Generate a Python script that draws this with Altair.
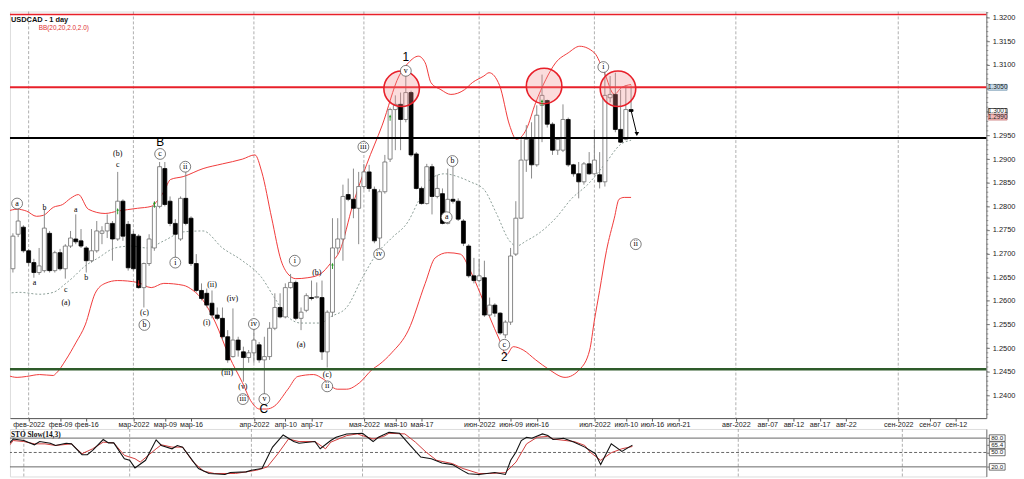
import altair as alt
import pandas as pd

symbol_title = "USDCAD - 1 day"
bb_title = "BB(20,20,2.0,2.0)"
sto_title = "STO Slow(14,3)"

first_day = "2022-01-26"
last_day = "2022-07-12"

opens = [1.2622,1.2668,1.2741,1.2756,1.2706,1.2681,1.2660,1.2664,1.2743,1.2664,
         1.2702,1.2668,1.2716,1.2731,1.2727,1.2712,1.2685,1.2706,1.2743,1.2748,
         1.2764,1.2731,1.2811,1.2762,1.2741,1.2737,1.2628,1.2679,1.2712,1.2800,
         1.2880,1.2811,1.2764,1.2731,1.2817,1.2775,1.2679,1.2622,1.2616,1.2595,
         1.2570,1.2563,1.2524,1.2482,1.2517,1.2492,1.2480,1.2490,1.2507,1.2475,
         1.2482,1.2542,1.2586,1.2566,1.2628,1.2639,1.2563,1.2580,1.2607,1.2607,
         1.2607,1.2492,1.2576,1.2712,1.2731,1.2825,1.2815,1.2796,1.2842,1.2873,
         1.2836,1.2733,1.2831,1.2900,1.3005,1.3016,1.2984,1.3041,1.2911,1.2838,
         1.2806,1.2884,1.2821,1.2827,1.2764,1.2815,1.2811,1.2769,1.2716,1.2653,
         1.2643,1.2649,1.2570,1.2591,1.2574,1.2528,1.2555,1.2699,1.2775,1.2898,
         1.2942,1.2888,1.3014,1.3024,1.2974,1.2919,1.2919,1.2984,1.2888,1.2869,
         1.2852,1.2890,1.2869,1.2867,1.2852,1.3030,1.3037,1.2963,1.2942,1.3005]
highs = [1.2706,1.2743,1.2796,1.2760,1.2710,1.2689,1.2712,1.2794,1.2748,1.2706,
         1.2710,1.2720,1.2748,1.2783,1.2752,1.2716,1.2752,1.2769,1.2758,1.2783,
         1.2769,1.2873,1.2815,1.2769,1.2748,1.2741,1.2681,1.2741,1.2811,1.2894,
         1.2894,1.2821,1.2773,1.2821,1.2888,1.2779,1.2699,1.2637,1.2626,1.2622,
         1.2586,1.2586,1.2538,1.2584,1.2524,1.2503,1.2496,1.2559,1.2513,1.2524,
         1.2555,1.2616,1.2616,1.2637,1.2657,1.2643,1.2586,1.2616,1.2643,1.2639,
         1.2643,1.2580,1.2775,1.2775,1.2846,1.2859,1.2880,1.2873,1.2890,1.2888,
         1.2842,1.2836,1.2909,1.3009,1.3035,1.3041,1.3089,1.3045,1.2915,1.2842,
         1.2890,1.2890,1.2867,1.2838,1.2880,1.2884,1.2817,1.2773,1.2720,1.2691,
         1.2689,1.2685,1.2607,1.2595,1.2576,1.2559,1.2712,1.2811,1.2942,1.2972,
         1.2978,1.3014,1.3079,1.3026,1.2978,1.2947,1.3016,1.2988,1.2890,1.2894,
         1.2894,1.2915,1.2963,1.2915,1.3097,1.3076,1.3083,1.3047,1.3056,1.3056]
lows = [1.2559,1.2660,1.2735,1.2702,1.2674,1.2649,1.2655,1.2660,1.2660,1.2660,
        1.2664,1.2647,1.2712,1.2720,1.2712,1.2660,1.2681,1.2702,1.2720,1.2733,
        1.2685,1.2727,1.2727,1.2664,1.2664,1.2626,1.2586,1.2674,1.2706,1.2796,
        1.2800,1.2758,1.2691,1.2727,1.2760,1.2674,1.2618,1.2601,1.2586,1.2563,
        1.2559,1.2517,1.2469,1.2480,1.2482,1.2429,1.2469,1.2469,1.2469,1.2387,
        1.2475,1.2538,1.2563,1.2563,1.2626,1.2559,1.2538,1.2576,1.2601,1.2605,
        1.2475,1.2459,1.2566,1.2699,1.2685,1.2811,1.2775,1.2720,1.2836,1.2831,
        1.2722,1.2712,1.2827,1.2894,1.2919,1.2919,1.2978,1.2905,1.2836,1.2804,
        1.2804,1.2783,1.2817,1.2762,1.2762,1.2806,1.2769,1.2716,1.2649,1.2637,
        1.2639,1.2566,1.2566,1.2566,1.2528,1.2521,1.2549,1.2695,1.2773,1.2873,
        1.2859,1.2884,1.2936,1.2967,1.2909,1.2909,1.2915,1.2884,1.2863,1.2817,
        1.2846,1.2867,1.2867,1.2838,1.2842,1.3020,1.2957,1.2934,1.2940,1.2999]
closes = [1.2668,1.2737,1.2769,1.2706,1.2681,1.2660,1.2674,1.2754,1.2664,1.2702,
          1.2668,1.2716,1.2733,1.2725,1.2716,1.2685,1.2706,1.2748,1.2748,1.2764,
          1.2731,1.2811,1.2737,1.2670,1.2668,1.2628,1.2679,1.2731,1.2800,1.2884,
          1.2804,1.2764,1.2741,1.2817,1.2764,1.2679,1.2622,1.2605,1.2591,1.2570,
          1.2563,1.2524,1.2475,1.2517,1.2496,1.2480,1.2490,1.2517,1.2475,1.2482,
          1.2542,1.2586,1.2566,1.2628,1.2639,1.2563,1.2576,1.2611,1.2605,1.2609,
          1.2492,1.2576,1.2712,1.2731,1.2821,1.2815,1.2796,1.2842,1.2873,1.2838,
          1.2727,1.2831,1.2894,1.3005,1.3016,1.2984,1.3041,1.2909,1.2838,1.2806,
          1.2884,1.2821,1.2838,1.2764,1.2815,1.2811,1.2773,1.2722,1.2653,1.2643,
          1.2653,1.2570,1.2591,1.2574,1.2532,1.2555,1.2695,1.2775,1.2898,1.2942,
          1.2888,1.2993,1.3035,1.2974,1.2919,1.2942,1.2984,1.2888,1.2869,1.2852,
          1.2890,1.2869,1.2898,1.2852,1.3035,1.3037,1.2963,1.2936,1.3005,1.3001]

# Bollinger bands (slot, price)
upper_slots = [0,1.8,3.6,5.5,6.8,8.7,10.5,12.0,13.5,15.4,18.6,21.0,24.8,27.4,28.5,29.8,31.1,33.5,37.3,41.0,
               44.8,47.2,48.5,50.4,52.2,53.5,55.0,57.3,59.7,61.6,63.4,65.9,68.5,71.5,74.7,76.5,78.4,79.7,80.8,82.7,
               84.6,87.2,88.7,90.9,91.9,93.9,95.8,97.1,99.0,100.8,102.7,104.6,107.0,109.2,112.0,113.9,115.8,117.1,119.0]
upper_vals = [1.2790,1.2794,1.2790,1.2779,1.2781,1.2798,1.2804,1.2817,1.2825,1.2794,1.2785,1.2790,1.2796,1.2800,1.2811,1.2831,1.2857,1.2863,1.2880,1.2890,
              1.2900,1.2909,1.2873,1.2775,1.2685,1.2657,1.2647,1.2649,1.2657,1.2679,1.2706,1.2804,1.2888,1.2972,1.3076,1.3104,1.3118,1.3104,1.3062,1.3047,
              1.3037,1.3047,1.3062,1.3076,1.3083,1.3056,1.2972,1.2942,1.2963,1.3020,1.3068,1.3104,1.3125,1.3139,1.3125,1.3083,1.3037,1.3051,1.3058]
mid_slots = [0,2.3,6.1,8.7,11.1,12.4,14.8,17.3,20.5,23.6,26.6,29.8,33.5,37.3,41.0,44.8,48.5,50.9,53.5,56.0,
             59.7,61.6,64.7,67.7,70.4,73.3,76.5,78.4,80.8,83.4,85.9,88.3,90.9,93.3,95.8,97.1,99.0,101.4,104.6,107.7,
             110.7,113.9,117.1,119.0]
mid_vals = [1.2616,1.2618,1.2614,1.2618,1.2637,1.2649,1.2674,1.2691,1.2712,1.2716,1.2712,1.2727,1.2746,1.2748,1.2712,1.2685,1.2649,1.2607,1.2566,1.2553,
            1.2553,1.2566,1.2586,1.2649,1.2699,1.2733,1.2769,1.2811,1.2859,1.2869,1.2863,1.2852,1.2836,1.2785,1.2727,1.2716,1.2727,1.2743,1.2775,1.2817,
            1.2846,1.2888,1.2932,1.2940]
lower_slots = [0,1.8,3.6,6.1,8.7,9.2,11.1,13.0,14.8,16.7,18.6,21.0,24.8,27.4,29.8,33.5,35.4,37.3,39.7,42.3,
               44.8,46.6,48.1,49.4,50.9,53.5,55.4,58.4,60.3,62.9,64.7,67.2,69.6,70.9,73.3,76.5,79.7,81.6,84.0,86.4,
               88.3,90.2,92.0,93.9,95.2,96.5,98.4,100.8,103.3,106.4,109.2,111.1,112.0,113.0,114.3,115.8,116.7,117.7,119.0]
lower_vals = [1.2442,1.2438,1.2440,1.2444,1.2442,1.2446,1.2475,1.2511,1.2549,1.2616,1.2637,1.2643,1.2639,1.2628,1.2637,1.2633,1.2622,1.2601,1.2553,1.2482,
              1.2427,1.2385,1.2371,1.2371,1.2377,1.2413,1.2440,1.2444,1.2434,1.2413,1.2413,1.2427,1.2455,1.2465,1.2490,1.2538,1.2637,1.2691,1.2702,1.2699,
              1.2664,1.2616,1.2566,1.2517,1.2486,1.2503,1.2496,1.2475,1.2455,1.2438,1.2455,1.2496,1.2559,1.2622,1.2706,1.2775,1.2815,1.2819,1.2819]

# Stochastic (slot, value)
k_slots = [0,2,4,6,7,9,10,12,13,15,16,17,19,20,21,23,24,25,27,29,30,32,33,34,37,39,42,43,46,47,
           49,51,53,55,56,59,60,62,63,65,68,70,71,73,75,77,79,81,83,85,87,88,90,93,95,96,97,98,99,100,
           102,103,104,106,108,110,112,113,115,117,119]
k_vals = [54.3,78,74.9,66,72.8,69.4,64.6,69.4,68,45.4,45.4,54.3,77,70,70,37,33.7,17.9,33.7,76.3,
          64.6,57.7,64.6,61.2,16.5,6.2,4.1,8.2,9.6,13,16.5,61.2,86.6,72.8,69.4,72.8,57.7,74.9,81.8,88.7,
          90,72.8,81.8,92,90,64.6,40.5,37,28.2,24.7,11.7,5.5,4.1,8.2,4.1,33.7,50.8,74.9,81.8,79.7,
          88.7,85.2,77,79.7,71.5,61.2,47.4,24.7,68,52.2,65.4]
d_slots = [0,2,4,6,8,10,13,15,17,19,21,23,25,26,29,30,32,34,36,38,40,44,46,48,50,52,54,56,59,61,
           62,65,67,70,72,73,76,78,80,82,85,87,90,92,95,97,99,101,103,104,108,110,111,113,115,117,119]
d_vals = [47.4,74.9,72.8,68,68,64.6,68,47.4,57.7,71.5,70,44,37,30,57.7,66,61.2,61.2,30,11,
          6.2,6.2,9.6,13,19.9,47.4,78,72.8,72.8,57.7,71.5,85.2,88.7,78,83.5,90,88.7,71.5,50.8,33.7,
          26.8,16.5,6.2,6.2,8,30,68,81.8,83.5,78,72.8,64.6,50.8,33.7,49.5,57.7,62.5]
sto_levels = [80, 50, 20]
sto_level_dash = [0, 1, 0]
sto_boxes = [80.0, 65.4, 50.0, 20.0]

# Horizontal levels
level_prices = [1.3206, 1.3052, 1.2945, 1.2455]
level_colors = ["#e8202a", "#e8202a", "#000000", "#2e5b2a"]
level_widths = [1.5, 2.0, 2.0, 2.5]

# Date labels
date_labels = ["фев-2022","фев-09","фев-16","мар-2022","мар-09","мар-16","апр-2022","апр-10","апр-17",
               "мая-2022","мая-10","мая-17","июн-2022","июн-09","июн-16","июл-2022","июл-10","июл-16","июл-21",
               "авг-2022","авг-07","авг-12","авг-17","авг-22","сен-2022","сен-07","сен-12"]
label_dates = ["2022-02-01","2022-02-09","2022-02-16","2022-03-01","2022-03-09","2022-03-16","2022-04-01","2022-04-10","2022-04-17",
               "2022-05-01","2022-05-10","2022-05-17","2022-06-01","2022-06-09","2022-06-16","2022-07-01","2022-07-10","2022-07-16","2022-07-21",
               "2022-08-01","2022-08-07","2022-08-12","2022-08-17","2022-08-22","2022-09-01","2022-09-07","2022-09-12"]
price_ticks = [1.2400,1.2450,1.2500,1.2550,1.2600,1.2650,1.2700,1.2750,1.2800,1.2850,
               1.2900,1.2950,1.3000,1.3050,1.3100,1.3150,1.3200]
hidden_tick_labels = [1.3000, 1.3050]
minor_ticks = [round(1.236 + 0.001 * i, 3) for i in range(86)]

# Annotations
ring_slots = [75.2, 102.4, 116.5]
ring_prices = [1.3049, 1.3055, 1.3049]
wave_texts = ["a","b","a","a","c","(a)","b","(b)","c","c","(c)","b","ii","i","(ii)","(i)","(iv)","(iii)",
              "(v)","iii","iv","v","i","(b)","(a)","(c)","ii","iii","iv","v","b","a","c","i","ii"]
wave_slots = [1.8,7.0,5.1,13.0,11.1,11.1,15.0,21.0,21.0,29.1,26.1,26.1,33.9,32.0,39.0,38.0,42.9,41.9,
              44.9,44.9,47.0,49.0,54.8,59.0,56.0,61.0,61.0,67.9,70.9,76.0,84.9,83.8,94.8,113.7,119.9]
wave_prices = [1.2806,1.2796,1.2637,1.2792,1.2622,1.2595,1.2649,1.2911,1.2888,1.2911,1.2574,1.2549,1.2884,1.2681,1.2633,1.2553,1.2603,1.2448,
               1.2417,1.2392,1.2551,1.2392,1.2685,1.2658,1.2507,1.2444,1.2419,1.2926,1.2699,1.3087,1.2896,1.2777,1.2507,1.3095,1.2720]
wave_circled = [1,0,0,0,0,0,0,0,0,1,0,1,1,1,0,0,0,0,
                0,1,1,1,1,0,0,0,1,1,1,1,1,1,1,1,1]
big_texts = ["B", "C", "1", "2"]
big_slots = [29.1, 48.9, 76.0, 94.8]
big_prices = [1.2936, 1.2371, 1.3116, 1.2480]
up_slots = [21.0, 28.0, 62.0, 73.0, 102.0]
up_prices = [1.2790, 1.2804, 1.2674, 1.2988, 1.3020]
down_slots = [25.0]
down_prices = [1.2637]
proj_slots = [119.0, 120.1]
proj_prices = [1.3003, 1.2953]
price_boxes = [1.3052, 1.3001, 1.2989]
price_box_text = ["1.3050", "1.3001", "1.2990"]
price_box_fill = ["#c9dcea", "#ffffff", "#f2b9b9"]
price_box_stroke = ["#7c9db4", "#333333", "#c77777"]

# ---------------------------------------------------------------
dates = pd.bdate_range(first_day, last_day)


def slot_of(d):
    d = pd.Timestamp(d)
    if d <= dates[-1]:
        return int((dates < d).sum())
    return len(dates) - 1 + (d - dates[-1]).days


tick_slots = [slot_of(d) for d in label_dates]
month_slots = [s for s, t in zip(tick_slots, date_labels) if t.endswith("2022")]

candles = pd.DataFrame({"slot": list(range(len(dates))), "open": opens, "high": highs,
                        "low": lows, "close": closes})
candles["fill"] = ["#ffffff" if c >= o else "#000000" for o, c in zip(opens, closes)]
candles["stroke"] = ["#6a6a6a" if c >= o else "#000000" for o, c in zip(opens, closes)]

W, H1, H2, GAP = 987, 411, 48, 11
xs = alt.Scale(domain=[1.383, 185.87], nice=False, zero=False)
ys = alt.Scale(domain=[1.23518, 1.32125], nice=False, zero=False)

lab_arr = "[" + ",".join("'" + t + "'" for t in date_labels) + "]"
pos_arr = "[" + ",".join(str(s) for s in tick_slots) + "]"
x_axis = alt.Axis(values=tick_slots, labelExpr=lab_arr + "[indexof(" + pos_arr + ", datum.value)]",
                  grid=False, tickSize=3, labelPadding=0, labelFontSize=7.2, labelFont="Liberation Sans",
                  labelColor="#222", domainColor="#555", tickColor="#555", labelOverlap=False,
                  labelFlush=False, title=None)
hide_expr = " || ".join("abs(datum.value - %s) < 0.00001" % v for v in hidden_tick_labels)
y_axis = alt.Axis(orient="right", values=price_ticks, format=".4f", grid=False, tickSize=3,
                  labelPadding=3, labelFontSize=7.5, labelFont="Liberation Sans", labelColor="#222",
                  domainColor="#777", tickColor="#777", title=None, labelOverlap=False,
                  labelExpr="(" + hide_expr + ") ? '' : datum.label")


def X(f="slot"):
    return alt.X(f + ":Q", scale=xs, axis=x_axis)


def Y(f):
    return alt.Y(f + ":Q", scale=ys, axis=y_axis)


grid_df = pd.DataFrame({"slot": month_slots})
grid = alt.Chart(grid_df).mark_rule(color="#9a9a9a", strokeDash=[3, 2], strokeWidth=0.8).encode(x=X())

upper = alt.Chart(pd.DataFrame({"slot": upper_slots, "p": upper_vals})).mark_line(
    color="#f03a3a", strokeWidth=1, interpolate="monotone", clip=True).encode(x=X(), y=Y("p"))
lower = alt.Chart(pd.DataFrame({"slot": lower_slots, "p": lower_vals})).mark_line(
    color="#f03a3a", strokeWidth=1, interpolate="monotone", clip=True).encode(x=X(), y=Y("p"))
middle = alt.Chart(pd.DataFrame({"slot": mid_slots, "p": mid_vals})).mark_line(
    color="#7d938b", strokeWidth=0.9, strokeDash=[2, 2], interpolate="monotone", clip=True).encode(x=X(), y=Y("p"))

wicks = alt.Chart(candles).mark_rule(color="#8a8a8a", strokeWidth=1, clip=True).encode(
    x=X(), y=Y("low"), y2="high")
bodies = alt.Chart(candles).mark_bar(size=4, strokeWidth=0.8, clip=True).encode(
    x=X(), y=Y("open"), y2="close",
    fill=alt.Fill("fill:N", scale=None), stroke=alt.Stroke("stroke:N", scale=None))

levels_df = pd.DataFrame({"p": level_prices, "c": level_colors, "w": level_widths})
levels = alt.Chart(levels_df).mark_rule().encode(
    y=Y("p"), color=alt.Color("c:N", scale=None), strokeWidth=alt.StrokeWidth("w:Q", scale=None))

minor = alt.Chart(pd.DataFrame({"p": minor_ticks})).mark_rule(color="#777", strokeWidth=0.8).encode(
    x=alt.value(W), x2=alt.value(W + 2), y=Y("p"))

rings = alt.Chart(pd.DataFrame({"slot": ring_slots, "p": ring_prices})).mark_point(
    shape="circle", size=1290, filled=True, fill="#f28a8a", fillOpacity=0.3,
    stroke="#e8202a", strokeWidth=1.6, strokeOpacity=1).encode(x=X(), y=Y("p"))

wave_df = pd.DataFrame({"slot": wave_slots, "p": wave_prices, "t": wave_texts, "c": wave_circled})
wave_circ = alt.Chart(wave_df).transform_filter("datum.c == 1").mark_point(
    shape="circle", size=120, filled=True, fill="#ffffff", stroke="#444", strokeWidth=0.7,
    opacity=1, clip=True).encode(x=X(), y=Y("p"))
wave_txt = alt.Chart(wave_df).mark_text(font="Liberation Serif", fontSize=8, color="#000",
                                        baseline="middle", clip=True).encode(x=X(), y=Y("p"), text="t:N")
big_txt = alt.Chart(pd.DataFrame({"slot": big_slots, "p": big_prices, "t": big_texts})).mark_text(
    font="Liberation Sans", fontSize=12, color="#000", baseline="middle").encode(x=X(), y=Y("p"), text="t:N")

ups = alt.Chart(pd.DataFrame({"slot": up_slots, "p": up_prices})).mark_point(
    shape="arrow", size=40, filled=True, color="#1f9a1f", opacity=1).encode(x=X(), y=Y("p"))
downs = alt.Chart(pd.DataFrame({"slot": down_slots, "p": down_prices})).mark_point(
    shape="arrow", angle=180, size=40, filled=True, color="#d02020", opacity=1).encode(x=X(), y=Y("p"))

proj_df = pd.DataFrame({"slot": proj_slots, "p": proj_prices})
proj_line = alt.Chart(proj_df).mark_line(color="#000", strokeWidth=1).encode(x=X(), y=Y("p"))
proj_head = alt.Chart(proj_df.tail(1)).mark_point(
    shape="triangle-down", size=22, filled=True, color="#000", opacity=1).encode(x=X(), y=Y("p"))

pb_df = pd.DataFrame({"p": price_boxes, "t": price_box_text, "f": price_box_fill, "s": price_box_stroke})
pb_df["top"] = pb_df["p"] + 0.00062
pb_df["bot"] = pb_df["p"] - 0.00062
pbox = alt.Chart(pb_df).mark_rect(strokeWidth=0.8).encode(
    x=alt.value(W + 2), x2=alt.value(W + 21), y=Y("top"), y2="bot",
    fill=alt.Fill("f:N", scale=None), stroke=alt.Stroke("s:N", scale=None))
ptxt = alt.Chart(pb_df).mark_text(font="Liberation Sans", fontSize=6.5, color="#222", align="center",
                                  baseline="middle").encode(x=alt.value(W + 11.5), y=Y("p"), text="t:N")

head = alt.Chart(pd.DataFrame({"t": [symbol_title]})).mark_text(
    font="Liberation Sans", fontSize=7.5, fontWeight="bold", color="#111", align="left",
    baseline="middle").encode(x=alt.value(1), y=alt.value(9), text="t:N")
bbt = alt.Chart(pd.DataFrame({"t": [bb_title]})).mark_text(
    font="Liberation Sans", fontSize=6.5, color="#e03030", align="left",
    baseline="middle").encode(x=alt.value(29), y=alt.value(17), text="t:N")

main = alt.layer(grid, middle, upper, lower, wicks, bodies, levels, minor, rings, wave_circ, wave_txt,
                 big_txt, ups, downs, proj_line, proj_head, pbox, ptxt, head, bbt).properties(
    width=W, height=H1)

# ---- stochastic panel
sys_ = alt.Scale(domain=[0, 99], nice=False, zero=False)
s_axis = alt.Axis(orient="right", values=sto_boxes, labels=False, tickSize=3, domainColor="#777",
                  tickColor="#777", grid=False, title=None)


def SY(f):
    return alt.Y(f + ":Q", scale=sys_, axis=s_axis)


SX = alt.X("slot:Q", scale=xs, axis=None)

s_grid = alt.Chart(grid_df).mark_rule(color="#9a9a9a", strokeDash=[3, 2], strokeWidth=0.8).encode(x=SX)
lv_df = pd.DataFrame({"v": sto_levels, "d": sto_level_dash})
s_lv_solid = alt.Chart(lv_df).transform_filter("datum.d == 0").mark_rule(
    color="#555", strokeWidth=0.9).encode(y=SY("v"))
s_lv_dash = alt.Chart(lv_df).transform_filter("datum.d == 1").mark_rule(
    color="#555", strokeWidth=0.9, strokeDash=[3, 2]).encode(y=SY("v"))
d_line = alt.Chart(pd.DataFrame({"slot": d_slots, "v": d_vals})).mark_line(
    color="#d03c3c", strokeWidth=1, clip=True).encode(x=SX, y=SY("v"))
k_line = alt.Chart(pd.DataFrame({"slot": k_slots, "v": k_vals})).mark_line(
    color="#111", strokeWidth=1.1, clip=True).encode(x=SX, y=SY("v"))
sb_df = pd.DataFrame({"v": sto_boxes, "t": ["%.1f" % v for v in sto_boxes]})
sb_df["top"] = sb_df["v"] + 6.8
sb_df["bot"] = sb_df["v"] - 6.8
s_box = alt.Chart(sb_df).mark_rect(fill="#fff", stroke="#333", strokeWidth=0.7).encode(
    x=alt.value(W + 3), x2=alt.value(W + 19), y=SY("top"), y2="bot")
s_txt = alt.Chart(sb_df).mark_text(font="Liberation Sans", fontSize=6.3, color="#222",
                                   baseline="middle").encode(x=alt.value(W + 11), y=SY("v"), text="t:N")
s_head = alt.Chart(pd.DataFrame({"t": [sto_title]})).mark_text(
    font="Liberation Serif", fontSize=7.5, fontWeight="bold", color="#111", align="left",
    baseline="middle").encode(x=alt.value(1), y=alt.value(6), text="t:N")

sto = alt.layer(s_grid, s_lv_solid, s_lv_dash, d_line, k_line, s_box, s_txt, s_head).properties(
    width=W, height=H2)

chart = alt.vconcat(main, sto, spacing=GAP, bounds="flush").properties(padding=0).configure_view(
    stroke="#555", strokeWidth=1).configure(background="white")

chart.save("out.html", embed_options={"renderer": "svg", "actions": False})
